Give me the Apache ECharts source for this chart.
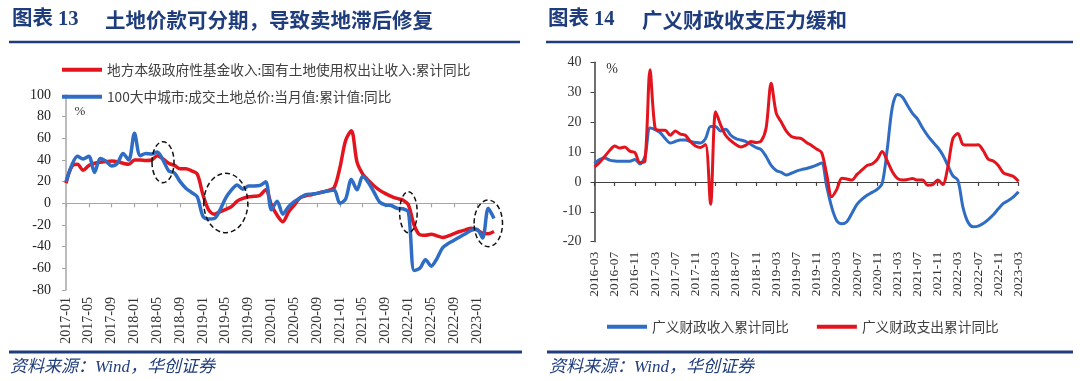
<!DOCTYPE html>
<html><head><meta charset="utf-8">
<script src="https://cdn.jsdelivr.net/npm/echarts@6/dist/echarts.min.js"></script>
<style>html,body{margin:0;padding:0;background:#fff}#c{width:1080px;height:381px}</style>
</head><body><div id="c"></div>
<script>
// ---------- data ----------
function monthRange(y0, m0, y1, m1) {
  const out = [];
  let y = y0, m = m0;
  while (y < y1 || (y === y1 && m <= m1)) {
    out.push(y + '-' + (m < 10 ? '0' + m : m));
    m++; if (m > 12) { m = 1; y++; }
  }
  return out;
}
const leftCats = monthRange(2017, 1, 2023, 4);
const rightCats = monthRange(2016, 3, 2023, 3);

const leftNames = ['地方本级政府性基金收入:国有土地使用权出让收入:累计同比', '100大中城市:成交土地总价:当月值:累计值:同比'];
const rightNames = ['广义财政收入累计同比', '广义财政支出累计同比'];

const landRevenueYoY = [18.5, 34, 36, 30.5, 35, 37, 38, 38.5, 39, 38.5, 37, 36,
  40, 40, 39.5, 40, 44, 41, 37, 35, 32, 32, 30, 27,
  8, -6, -10, -7.8, -5.5, -3, 2, 4.5, 6, 6.5, 7.5, 12.5,
  -1.5, -11, -17, -8, -1.5, 5, 7, 8, 9.2, 10.5, 12, 14.5,
  33, 58, 67, 38, 27, 21, 16, 12, 9, 6.5, 4.5, 3,
  -1.5, -20, -29, -29.5, -28.5, -30, -31.5, -30, -28, -26, -24.5, -23,
  -24.5, -27.5, -28, -26];
const landDealYoY = [20, 35, 43.5, 41, 43.5, 28.5, 41.5, 39, 34.5, 37, 46, 40,
  64.6, 44, 46, 45.5, 47.5, 40, 30, 28, 20, 14, 10, 6,
  -12, -14.5, -14, -6, 5, 12.5, 17, 13, 16, 16, 16.5, 20,
  -6, 2, -10, -3, 1.5, 5, 8, 8.5, 9.2, 10.5, 11.4, 12.3,
  0, 4, 22, 12.5, 25, 19, 10, 1, -1.5, -2, -4.5, -5,
  -8, -62, -60, -52, -58, -51, -41, -37, -34, -31, -28, -25,
  -24, -32, -4.5, -14];

const fiscalRevenueYoY = [6.1, 7.5, 8.0, 7.3, 7.0, 6.9, 6.9, 6.9, 7.5, 6.0,
  8.5, 18.0, 17.5, 16.5, 14.5, 13.0, 13.5, 14.0, 14.0, 13.5,
  13.2, 13.0, 14.5, 18.5, 18.5, 17.0, 17.6, 15.6, 14.5, 14.0,
  13.5, 12.5, 11.5, 10.8, 8.5, 5.5, 3.8, 3.2, 2.3, 2.9,
  3.6, 4.1, 4.5, 5.0, 5.6, 6.3, -1.5, -8.5, -13.0, -14.0,
  -13.3, -10.5, -7.5, -5.8, -4.5, -3.5, -2.5, -0.5, 11.0, 25.0,
  29.2, 28.4, 25.6, 22.9, 21.0, 18.0, 15.5, 13.4, 11.5, 9.0,
  5.5, 2.0, 0.5, -8.5, -13.5, -15.0, -14.8, -13.9, -12.6, -11.0,
  -9.0, -7.2, -6.2, -5.0, -3.3];
const fiscalSpendingYoY = [5.0, 6.5, 8.5, 10.5, 12.0, 11.3, 11.7, 10.3, 9.8, 6.5,
  7.0, 37.5, 18.0, 17.3, 17.3, 15.6, 17.0, 16.0, 15.6, 13.5,
  12.0, 11.5, 12.5, -7.5, 23.5, 19.0, 15.5, 13.8, 12.5, 11.7,
  12.3, 13.5, 13.2, 13.6, 18.0, 33.0, 23.0, 20.0, 17.0, 15.2,
  14.7, 14.5, 13.2, 12.2, 11.0, 9.8, 2.5, -5.0, -2.5, 1.2,
  1.0, 0.6, 2.5, 4.0, 5.5, 6.0, 7.5, 10.2, 7.0, 3.4,
  1.2, 0.6, 0.8, 1.1, 0.6, 0.6, -1.1, -0.9, 0.6, -0.9,
  5.0, 14.5, 16.2, 12.5, 12.3, 12.3, 12.4, 10.5, 7.6, 7.0,
  5.5, 3.0, 2.4, 1.8, 0.2];

// annotation ellipses on left chart: [month index, value]
const leftHighlights = [[16.6, 38], [27.7, 0.3], [59.9, -8.2], [73.6, -18.5]];
const highlightRadii = [[11, 20.5], [22, 29.7], [8.8, 20.5], [14.2, 23.3]];

// ---------- style ----------
const RED = '#E3141E', BLUE = '#2F6CC4', NAVY = '#1F3C7C';
const SERIF = "'Liberation Serif','Noto Sans CJK SC',serif";
const CJK = "'Noto Sans CJK SC',sans-serif";

const chart = echarts.init(document.getElementById('c'), null, {renderer: 'canvas'});

function xAxes(grid, cats, lineColor, labelMargin, fs) {
  return [
    {gridIndex: grid, type: 'category', data: cats, boundaryGap: false, position: 'bottom',
     axisLine: {onZero: true, lineStyle: {color: lineColor, width: 1.2}},
     axisTick: {interval: 3, length: 4, lineStyle: {color: lineColor, width: 1.2}},
     axisLabel: {show: false}, splitLine: {show: false}},
    {gridIndex: grid, type: 'category', data: cats, boundaryGap: false, position: 'bottom',
     axisLine: {show: false, onZero: false}, axisTick: {show: false},
     axisLabel: {interval: 3, rotate: 90, margin: labelMargin, fontFamily: SERIF, fontSize: fs, color: '#333'},
     splitLine: {show: false}}
  ];
}

const option = {
  animation: false,
  backgroundColor: '#fff',
  grid: [
    {left: 66, top: 95, width: 428, height: 195},
    {left: 594.5, top: 62.3, width: 424, height: 179.4}
  ],
  xAxis: [].concat(xAxes(0, leftCats, '#a6a6a6', 7, 14), xAxes(1, rightCats, '#404040', 10, 13.5)),
  yAxis: [
    {gridIndex: 0, type: 'value', min: -80, max: 100, interval: 20,
     axisLine: {show: true, lineStyle: {color: '#a6a6a6', width: 1.5}},
     axisTick: {show: true, length: 4, lineStyle: {color: '#a6a6a6'}},
     splitLine: {show: false},
     axisLabel: {margin: 15, fontFamily: SERIF, fontSize: 14, color: '#222'}},
    {gridIndex: 1, type: 'value', min: -20, max: 40, interval: 10,
     axisLine: {show: true, lineStyle: {color: '#404040', width: 1.5}},
     axisTick: {show: true, length: 4, lineStyle: {color: '#404040'}},
     splitLine: {show: false},
     axisLabel: {margin: 13, fontFamily: SERIF, fontSize: 14, color: '#333'}}
  ],
  legend: [
    {data: [leftNames[0]], left: 57, top: 58, orient: 'vertical', icon: 'rect', itemWidth: 40, itemHeight: 4,
     textStyle: {fontFamily: CJK, fontSize: 13.7, color: '#404040'}},
    {data: [leftNames[1]], left: 57, top: 85, orient: 'vertical', icon: 'rect', itemWidth: 40, itemHeight: 4,
     textStyle: {fontFamily: CJK, fontSize: 13.7, color: '#404040'}},
    {data: rightNames, left: 602, top: 315, orient: 'horizontal', icon: 'rect', itemWidth: 40, itemHeight: 4, itemGap: 28,
     textStyle: {fontFamily: CJK, fontSize: 13.7, color: '#404040'}}
  ],
  series: [
    {name: leftNames[0], type: 'line', xAxisIndex: 0, yAxisIndex: 0, data: landRevenueYoY,
     symbol: 'none', smooth: 0.3, lineStyle: {color: RED, width: 3.5}, itemStyle: {color: RED}},
    {name: leftNames[1], type: 'line', xAxisIndex: 0, yAxisIndex: 0, data: landDealYoY,
     symbol: 'none', smooth: 0.3, lineStyle: {color: BLUE, width: 3.5}, itemStyle: {color: BLUE}},
    {name: rightNames[0], type: 'line', xAxisIndex: 2, yAxisIndex: 1, data: fiscalRevenueYoY,
     symbol: 'none', smooth: 0.3, lineStyle: {color: BLUE, width: 3}, itemStyle: {color: BLUE}},
    {name: rightNames[1], type: 'line', xAxisIndex: 2, yAxisIndex: 1, data: fiscalSpendingYoY,
     symbol: 'none', smooth: 0.3, lineStyle: {color: RED, width: 3}, itemStyle: {color: RED}}
  ]
};
chart.setOption(option);

// ---------- decorations ----------
const graphics = [];
function text(x, y, t, font, fill, extra) {
  graphics.push(Object.assign({type: 'text', x: x, y: y, silent: true,
    style: Object.assign({text: t, font: font, fill: fill, verticalAlign: 'middle', align: 'left'}, extra || {})}));
}
function hline(x1, x2, y, w) {
  graphics.push({type: 'line', silent: true, shape: {x1: x1, y1: y, x2: x2, y2: y},
    style: {stroke: NAVY, lineWidth: w}});
}
text(12, 20, '图表 13', "bold 20.5px " + SERIF, NAVY);
text(105, 20, '土地价款可分期，导致卖地滞后修复', "bold 20.5px " + CJK, NAVY);
text(548, 20, '图表 14', "bold 20.5px " + SERIF, NAVY);
text(642, 20, '广义财政收支压力缓和', "bold 20.5px " + CJK, NAVY);
hline(9, 520, 42, 2.6);
hline(546, 1073, 42, 2.6);
hline(9, 522, 352, 2.8);
hline(547, 1073, 352, 2.8);
text(10, 368, '资料来源：Wind，华创证券', "italic 17px " + SERIF, NAVY);
text(549, 368, '资料来源：Wind，华创证券', "italic 17px " + SERIF, NAVY);
text(80, 112, '%', "13px " + SERIF, '#333', {align: 'center'});
text(612, 69, '%', "14px " + SERIF, '#333', {align: 'center'});

leftHighlights.forEach(function (p, i) {
  const c = chart.convertToPixel({xAxisIndex: 0, yAxisIndex: 0}, p);
  graphics.push({type: 'ellipse', silent: true, z: 100,
    shape: {cx: c[0], cy: c[1], rx: highlightRadii[i][0], ry: highlightRadii[i][1]},
    style: {fill: 'none', stroke: '#111', lineWidth: 1.5, lineDash: [5, 3]}});
});
chart.setOption({graphic: graphics});
</script></body></html>
